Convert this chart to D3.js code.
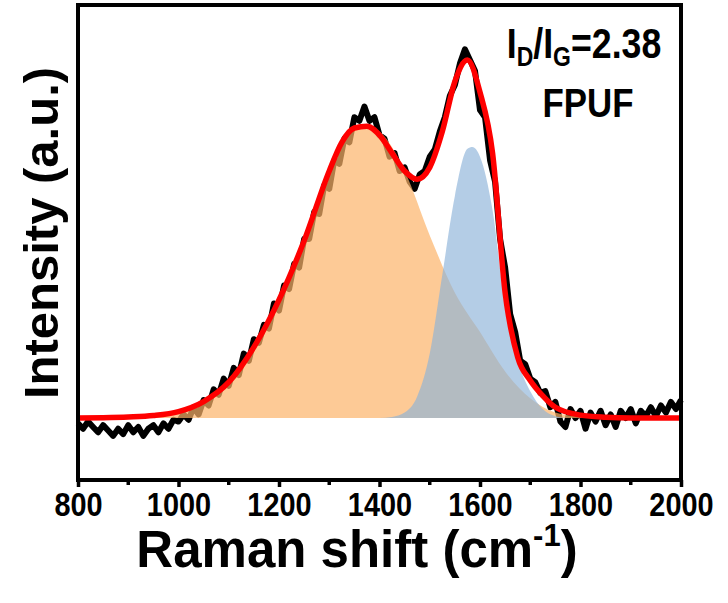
<!DOCTYPE html>
<html>
<head>
<meta charset="utf-8">
<script src="https://cdn.jsdelivr.net/npm/d3@7"></script>
<style>
  body { margin: 0; background: #fff; }
  text { font-family: "Liberation Sans", Arial, sans-serif; font-weight: bold; }
</style>
</head>
<body>
<svg class="chart"></svg>
<script>
// raw spectrum, 10 cm-1 steps from 800 to 2000
var rawShift = d3.range(800, 2001, 10);
var rawIntensity = [
  -0.015, -0.03, -0.01, -0.025, -0.04, -0.02, -0.035, -0.05, -0.03, -0.045,
  -0.02, -0.04, -0.025, -0.05, -0.03, -0.02, -0.04, -0.015, -0.03, -0.005,
  -0.01, 0.01, -0.005, 0.03, 0.01, 0.05, 0.035, 0.08, 0.065, 0.11,
  0.09, 0.14, 0.12, 0.18, 0.16, 0.22, 0.21, 0.26, 0.25, 0.32,
  0.30, 0.37, 0.36, 0.43, 0.42, 0.50, 0.50, 0.575, 0.57, 0.65,
  0.64, 0.72, 0.71, 0.78, 0.77, 0.84, 0.83, 0.87, 0.83, 0.84,
  0.79, 0.78, 0.73, 0.74, 0.69, 0.70, 0.66, 0.64, 0.68, 0.69,
  0.73, 0.75, 0.80, 0.84, 0.90, 0.93, 0.99, 1.03, 1.00, 0.97,
  0.86, 0.84, 0.72, 0.66, 0.50, 0.42, 0.29, 0.24, 0.16, 0.15,
  0.11, 0.10, 0.07, 0.075, 0.03, 0.045, -0.01, -0.025, 0.025, 0.0,
  0.02, -0.03, 0.015, -0.01, 0.02, -0.02, 0.01, -0.025, 0.02, 0.0,
  0.025, -0.015, 0.02, 0.005, 0.03, 0.005, 0.035, 0.015, 0.045, 0.025,
  0.05
];

// D band component (orange)
var dShift = [800, 850, 900, 950, 1000, 1050, 1100, 1150, 1200, 1250, 1300, 1325, 1350, 1375, 1400, 1450, 1500, 1550, 1600, 1650, 1700, 1750, 1800, 2000];
var dIntensity = [0, 0.001, 0.003, 0.007, 0.017, 0.044, 0.098, 0.195, 0.325, 0.49, 0.68, 0.76, 0.805, 0.815, 0.80, 0.69, 0.51, 0.35, 0.24, 0.13, 0.055, 0.015, 0.004, 0];

// G band component (blue)
var gShift = [1400, 1425, 1450, 1475, 1500, 1525, 1550, 1575, 1585, 1600, 1625, 1650, 1675, 1700, 1725, 1750, 1775];
var gIntensity = [0, 0.003, 0.015, 0.06, 0.18, 0.40, 0.62, 0.752, 0.757, 0.73, 0.58, 0.31, 0.16, 0.075, 0.025, 0.005, 0];

// cumulative fit (red)
var fitShift = [800, 850, 900, 950, 1000, 1050, 1100, 1150, 1200, 1250, 1300, 1325, 1350, 1375, 1400, 1425, 1450, 1475, 1500, 1525, 1550, 1575, 1600, 1625, 1650, 1675, 1700, 1725, 1750, 1800, 1850, 1900, 2000];
var fitIntensity = [0, 0.001, 0.003, 0.007, 0.018, 0.046, 0.10, 0.198, 0.33, 0.495, 0.69, 0.77, 0.81, 0.815, 0.79, 0.74, 0.69, 0.667, 0.70, 0.80, 0.94, 1.0, 0.91, 0.74, 0.35, 0.17, 0.105, 0.062, 0.03, 0.008, 0.002, 0, 0];

var xTicks = [800, 1000, 1200, 1400, 1600, 1800, 2000];
var xMinorTicks = [900, 1100, 1300, 1500, 1700, 1900];

var Chart = (function(){

  var that = {},
    svg,
    xScale,
    yScale,
    narrow = "scale(0.85,1)",
    margin = {top: 5, right: 47, bottom: 123, left: 78},
    width = 728 - margin.left - margin.right,
    height = 603 - margin.top - margin.bottom;

  function zip(xs, ys){
    return xs.map(function(d, i){ return {x: d, y: ys[i]}; });
  }

  function initialize(){
    svg = d3.select(".chart")
            .attr("width", 728)
            .attr("height", 603);

    xScale = d3.scaleLinear().domain([800, 2000]).range([margin.left, margin.left + width]);
    yScale = d3.scaleLinear().domain([-0.1732, 1.1536]).range([margin.top + height, margin.top]);

    drawSpectrum();
    drawComponents();
    drawFit();
    drawAxes();
    drawLabels();
  }

  function drawSpectrum(){
    var line = d3.line()
                 .x(function(d){ return xScale(d.x); })
                 .y(function(d){ return yScale(d.y); });
    svg.append("path")
       .datum(zip(rawShift, rawIntensity))
       .attr("d", line)
       .attr("fill", "none")
       .attr("stroke", "#000")
       .attr("stroke-width", 6)
       .attr("stroke-linejoin", "round");
  }

  function drawComponents(){
    var area = d3.area()
                 .curve(d3.curveMonotoneX)
                 .x(function(d){ return xScale(d.x); })
                 .y0(yScale(0))
                 .y1(function(d){ return yScale(d.y); });

    svg.append("path")
       .datum(zip(dShift, dIntensity))
       .attr("d", area)
       .attr("fill", "rgb(252,180,106)")
       .attr("fill-opacity", 0.7);

    svg.append("path")
       .datum(zip(gShift, gIntensity))
       .attr("d", area)
       .attr("fill", "rgb(140,178,217)")
       .attr("fill-opacity", 0.65);
  }

  function drawFit(){
    var line = d3.line()
                 .curve(d3.curveMonotoneX)
                 .x(function(d){ return xScale(d.x); })
                 .y(function(d){ return yScale(d.y); });
    svg.append("path")
       .datum(zip(fitShift, fitIntensity))
       .attr("d", line)
       .attr("fill", "none")
       .attr("stroke", "#f00")
       .attr("stroke-width", 5.5);
  }

  function drawAxes(){
    var bottom = margin.top + height;

    var axis = svg.append("g")
                  .attr("transform", "translate(0," + bottom + ")")
                  .call(d3.axisBottom(xScale).tickValues(xTicks).tickSize(7).tickPadding(5).tickFormat(d3.format("d")));
    axis.select(".domain").remove();
    axis.selectAll("line").attr("stroke-width", 3.5);
    axis.selectAll("text")
        .attr("font-size", 34)
        .attr("font-family", null)
        .attr("fill", "#000")
        .attr("transform", narrow);

    svg.append("g")
       .attr("transform", "translate(0," + bottom + ")")
       .selectAll("line")
       .data(xMinorTicks)
       .enter().append("line")
       .attr("x1", function(d){ return xScale(d); })
       .attr("x2", function(d){ return xScale(d); })
       .attr("y1", 0)
       .attr("y2", 5)
       .attr("stroke", "#000")
       .attr("stroke-width", 3.5);

    svg.append("rect")
       .attr("x", margin.left)
       .attr("y", margin.top)
       .attr("width", width)
       .attr("height", height)
       .attr("fill", "none")
       .attr("stroke", "#000")
       .attr("stroke-width", 4);
  }

  function drawLabels(){
    var xt = svg.append("text")
                .attr("x", 357)
                .attr("y", 567)
                .attr("text-anchor", "middle")
                .attr("font-size", 51);
    xt.append("tspan").text("Raman shift (cm");
    xt.append("tspan").attr("font-size", 31).attr("dy", -21).text("-1");
    xt.append("tspan").attr("dy", 21).text(")");

    svg.append("text")
       .attr("transform", "translate(58,233) rotate(-90)")
       .attr("text-anchor", "middle")
       .attr("font-size", 49)
       .text("Intensity (a.u.)");

    var ann = svg.append("text")
                 .attr("transform", "translate(584,58) " + narrow)
                 .attr("text-anchor", "middle")
                 .attr("font-size", 42);
    ann.append("tspan").text("I");
    ann.append("tspan").attr("font-size", 27).attr("dy", 8).text("D");
    ann.append("tspan").attr("dy", -8).text("/I");
    ann.append("tspan").attr("font-size", 27).attr("dy", 8).text("G");
    ann.append("tspan").attr("dy", -8).text("=2.38");

    svg.append("text")
       .attr("transform", "translate(588,117) " + narrow)
       .attr("text-anchor", "middle")
       .attr("font-size", 41)
       .text("FPUF");
  }

  that.init = initialize;
  return that;

})();

Chart.init();
</script>
</body>
</html>
